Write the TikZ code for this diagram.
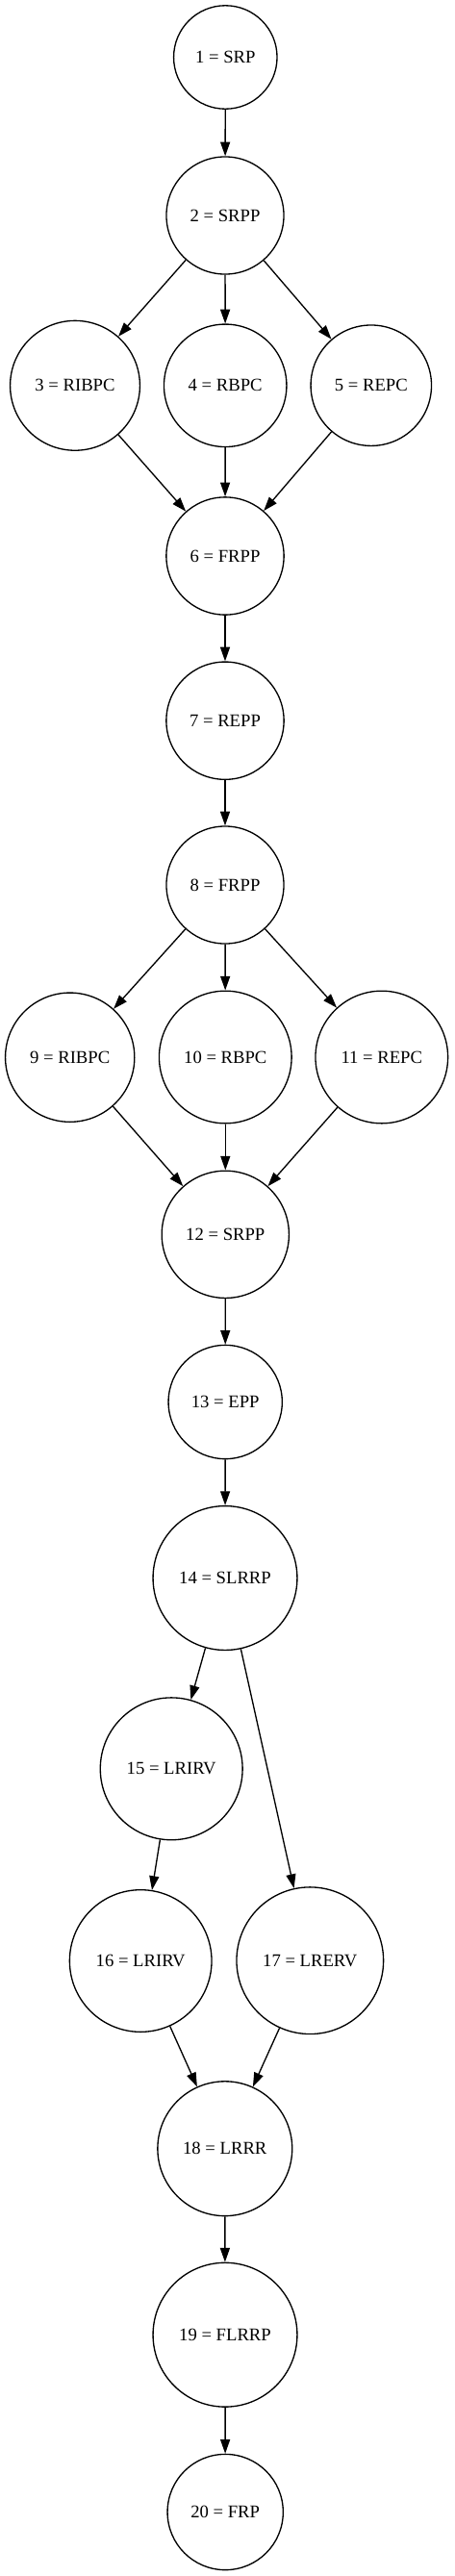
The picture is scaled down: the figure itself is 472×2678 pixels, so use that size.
\documentclass[tikz,border=0pt]{standalone}
\usepackage{fontspec}
\setmainfont{Liberation Serif}
\usetikzlibrary{arrows.meta}
\begin{document}
\begin{tikzpicture}[x=0.75pt,y=-0.75pt,
  st/.style={circle,draw,line width=1pt,inner sep=0pt,minimum size=#1*1.5pt-1pt,font=\fontsize{14pt}{16pt}\selectfont},
  arr/.style={line width=1pt,-{Triangle[length=11pt,width=7.5pt]}}]
\useasboundingbox (0,0) rectangle (472,2678);
\node[st=54.4] (n1) at (234.3,59.5) {1 = SRP};
\node[st=61.7] (n2) at (234,224) {2 = SRPP};
\node[st=68.1] (n3) at (78,400.8) {3 = RIBPC};
\node[st=64.4] (n4) at (234.2,400.8) {4 = RBPC};
\node[st=63.4] (n5) at (385.8,400.7) {5 = REPC};
\node[st=61.8] (n6) at (234,578) {6 = FRPP};
\node[st=61.8] (n7) at (234,749.2) {7 = REPP};
\node[st=61.7] (n8) at (234,920) {8 = FRPP};
\node[st=67.8] (n9) at (72.7,1099.2) {9 = RIBPC};
\node[st=69.5] (n10) at (234.3,1099) {10 = RBPC};
\node[st=69.5] (n11) at (396.8,1099) {11 = REPC};
\node[st=66.8] (n12) at (234.3,1283.3) {12 = SRPP};
\node[st=59.8] (n13) at (234.2,1457.5) {13 = EPP};
\node[st=75.6] (n14) at (234,1640.5) {14 = SLRRP};
\node[st=74.6] (n15) at (178.2,1838.8) {15 = LRIRV};
\node[st=74.5] (n16) at (146.2,2038.5) {16 = LRIRV};
\node[st=77] (n17) at (322.3,2038.2) {17 = LRERV};
\node[st=70.6] (n18) at (233.8,2233.7) {18 = LRRR};
\node[st=75.6] (n19) at (234,2427.2) {19 = FLRRP};
\node[st=60.8] (n20) at (234.2,2611.5) {20 = FRP};
\draw[arr] (n1) -- (n2);
\draw[arr] (n2) -- (n3);
\draw[arr] (n2) -- (n4);
\draw[arr] (n2) -- (n5);
\draw[arr] (n3) -- (n6);
\draw[arr] (n4) -- (n6);
\draw[arr] (n5) -- (n6);
\draw[arr] (n6) -- (n7);
\draw[arr] (n7) -- (n8);
\draw[arr] (n8) -- (n9);
\draw[arr] (n8) -- (n10);
\draw[arr] (n8) -- (n11);
\draw[arr] (n9) -- (n12);
\draw[arr] (n10) -- (n12);
\draw[arr] (n11) -- (n12);
\draw[arr] (n12) -- (n13);
\draw[arr] (n13) -- (n14);
\draw[arr] (n14) -- (n15);
\draw[arr] (n14) -- (n17);
\draw[arr] (n15) -- (n16);
\draw[arr] (n16) -- (n18);
\draw[arr] (n17) -- (n18);
\draw[arr] (n18) -- (n19);
\draw[arr] (n19) -- (n20);
\end{tikzpicture}
\end{document}
